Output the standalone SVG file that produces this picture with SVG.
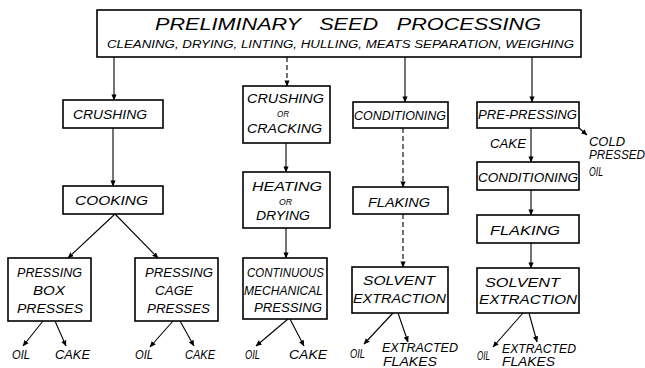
<svg xmlns="http://www.w3.org/2000/svg" width="645" height="368" viewBox="0 0 645 368">
<style>
.box{fill:#fff;stroke:#000;stroke-width:1.6}
.t{font-family:"Liberation Sans",Arial,sans-serif;font-style:italic;fill:#000;font-size:13px}
.s{font-size:9px}
.o{font-size:12px}
.c{stroke:#000;stroke-width:1.1;fill:none;marker-end:url(#ah)}
.d{stroke-dasharray:5 3}
</style>
<defs>
<marker id="ah" viewBox="0 0 8 8" refX="7.5" refY="4" markerWidth="6" markerHeight="6" markerUnits="userSpaceOnUse" orient="auto">
<path d="M0,0.5 L8,4 L0,7.5 Z" fill="#000"/>
</marker>
</defs>
<rect width="645" height="368" fill="#fff"/>
<g id="connectors">
<line class="c" x1="114" y1="57" x2="114" y2="100"/>
<line class="c" x1="113" y1="128" x2="113" y2="186"/>
<line class="c" x1="115" y1="214" x2="68" y2="258"/>
<line class="c" x1="115" y1="214" x2="158" y2="258"/>
<line class="c" x1="43" y1="321" x2="23" y2="346"/>
<line class="c" x1="55" y1="321" x2="66" y2="346"/>
<line class="c" x1="173" y1="321" x2="150" y2="347"/>
<line class="c" x1="180" y1="321" x2="194" y2="346"/>
<line class="c d" x1="287" y1="57" x2="287" y2="86"/>
<line class="c" x1="286" y1="143" x2="286" y2="172"/>
<line class="c" x1="286" y1="228" x2="286" y2="258"/>
<line class="c" x1="288" y1="319" x2="256" y2="346"/>
<line class="c" x1="290" y1="319" x2="304" y2="346"/>
<line class="c" x1="405" y1="57" x2="405" y2="102"/>
<line class="c d" x1="403" y1="128" x2="403" y2="187"/>
<line class="c d" x1="403" y1="214" x2="403" y2="267"/>
<line class="c" x1="393" y1="313" x2="364" y2="344"/>
<line class="c" x1="398" y1="313" x2="408" y2="342"/>
<line class="c" x1="532" y1="57" x2="532" y2="102"/>
<line class="c" x1="531" y1="128" x2="531" y2="162"/>
<line class="c" x1="531" y1="190" x2="531" y2="215"/>
<line class="c" x1="531" y1="243" x2="531" y2="268"/>
<line class="c" x1="579" y1="128" x2="587" y2="135"/>
<line class="c" x1="523" y1="313" x2="493" y2="347"/>
<line class="c" x1="529" y1="313" x2="537" y2="342"/>
</g>
<g id="prelim">
<rect class="box" x="97" y="10" width="484" height="47"/>
<text class="t" x="155" y="30" textLength="386" lengthAdjust="spacingAndGlyphs" style="font-size:17px;word-spacing:10px">PRELIMINARY SEED PROCESSING</text>
<text class="t" x="107" y="48" textLength="467" lengthAdjust="spacingAndGlyphs" style="font-size:10px">CLEANING, DRYING, LINTING, HULLING, MEATS SEPARATION, WEIGHING</text>
</g>
<g id="crushing1">
<rect class="box" x="63" y="100" width="100" height="28"/>
<text class="t" x="73" y="119" textLength="74" lengthAdjust="spacingAndGlyphs">CRUSHING</text>
</g>
<g id="cooking">
<rect class="box" x="63" y="186" width="100" height="28"/>
<text class="t" x="75" y="205" textLength="73" lengthAdjust="spacingAndGlyphs">COOKING</text>
</g>
<g id="boxpress">
<rect class="box" x="8" y="258" width="83" height="63"/>
<text class="t" x="17" y="277" textLength="65" lengthAdjust="spacingAndGlyphs">PRESSING</text>
<text class="t" x="33" y="295" textLength="32" lengthAdjust="spacingAndGlyphs">BOX</text>
<text class="t" x="17" y="313" textLength="66" lengthAdjust="spacingAndGlyphs">PRESSES</text>
</g>
<g id="cagepress">
<rect class="box" x="135" y="258" width="83" height="63"/>
<text class="t" x="145" y="277" textLength="68" lengthAdjust="spacingAndGlyphs">PRESSING</text>
<text class="t" x="155" y="295" textLength="38" lengthAdjust="spacingAndGlyphs">CAGE</text>
<text class="t" x="147" y="313" textLength="63" lengthAdjust="spacingAndGlyphs">PRESSES</text>
</g>
<g id="out1">
<text class="t o" x="12" y="359" textLength="18" lengthAdjust="spacingAndGlyphs">OIL</text>
<text class="t o" x="55" y="359" textLength="35" lengthAdjust="spacingAndGlyphs">CAKE</text>
<text class="t o" x="135" y="359" textLength="18" lengthAdjust="spacingAndGlyphs">OIL</text>
<text class="t o" x="185" y="359" textLength="30" lengthAdjust="spacingAndGlyphs">CAKE</text>
</g>
<g id="crushing2">
<rect class="box" x="243" y="86" width="87" height="57"/>
<text class="t" x="247" y="103" textLength="77" lengthAdjust="spacingAndGlyphs">CRUSHING</text>
<text class="t s" x="277" y="117" textLength="12" lengthAdjust="spacingAndGlyphs">OR</text>
<text class="t" x="247" y="133" textLength="75" lengthAdjust="spacingAndGlyphs">CRACKING</text>
</g>
<g id="heating">
<rect class="box" x="243" y="172" width="87" height="56"/>
<text class="t" x="252" y="191" textLength="70" lengthAdjust="spacingAndGlyphs">HEATING</text>
<text class="t s" x="279" y="205" textLength="13" lengthAdjust="spacingAndGlyphs">OR</text>
<text class="t" x="256" y="220" textLength="54" lengthAdjust="spacingAndGlyphs">DRYING</text>
</g>
<g id="continuous">
<rect class="box" x="243" y="258" width="84" height="61"/>
<text class="t" x="247" y="277" textLength="77" lengthAdjust="spacingAndGlyphs" style="font-size:12px">CONTINUOUS</text>
<text class="t" x="244" y="295" textLength="79" lengthAdjust="spacingAndGlyphs" style="font-size:12px">MECHANICAL</text>
<text class="t" x="254" y="312" textLength="68" lengthAdjust="spacingAndGlyphs">PRESSING</text>
</g>
<g id="out2">
<text class="t o" x="245" y="359" textLength="15" lengthAdjust="spacingAndGlyphs">OIL</text>
<text class="t o" x="289" y="359" textLength="38" lengthAdjust="spacingAndGlyphs">CAKE</text>
</g>
<g id="conditioning1">
<rect class="box" x="353" y="102" width="95" height="26"/>
<text class="t" x="354" y="120" textLength="92" lengthAdjust="spacingAndGlyphs">CONDITIONING</text>
</g>
<g id="flaking1">
<rect class="box" x="353" y="187" width="95" height="27"/>
<text class="t" x="368" y="207" textLength="62" lengthAdjust="spacingAndGlyphs">FLAKING</text>
</g>
<g id="solvent1">
<rect class="box" x="352" y="267" width="96" height="46"/>
<text class="t" x="363" y="285" textLength="72" lengthAdjust="spacingAndGlyphs">SOLVENT</text>
<text class="t" x="353" y="303" textLength="93" lengthAdjust="spacingAndGlyphs">EXTRACTION</text>
</g>
<g id="out3">
<text class="t o" x="350" y="358" textLength="15" lengthAdjust="spacingAndGlyphs">OIL</text>
<text class="t o" x="382" y="352" textLength="76" lengthAdjust="spacingAndGlyphs">EXTRACTED</text>
<text class="t o" x="383" y="366" textLength="54" lengthAdjust="spacingAndGlyphs">FLAKES</text>
</g>
<g id="prepressing">
<rect class="box" x="477" y="102" width="102" height="26"/>
<text class="t" x="478" y="119" textLength="99" lengthAdjust="spacingAndGlyphs">PRE-PRESSING</text>
</g>
<g id="coldoil">
<text class="t o" x="490" y="148" textLength="36" lengthAdjust="spacingAndGlyphs">CAKE</text>
<text class="t o" x="589" y="146" textLength="36" lengthAdjust="spacingAndGlyphs">COLD</text>
<text class="t o" x="589" y="159" textLength="56" lengthAdjust="spacingAndGlyphs">PRESSED</text>
<text class="t o" x="589" y="176" textLength="14" lengthAdjust="spacingAndGlyphs">OIL</text>
</g>
<g id="conditioning2">
<rect class="box" x="477" y="162" width="102" height="28"/>
<text class="t" x="478" y="182" textLength="100" lengthAdjust="spacingAndGlyphs">CONDITIONING</text>
</g>
<g id="flaking2">
<rect class="box" x="477" y="215" width="102" height="28"/>
<text class="t" x="490" y="235" textLength="70" lengthAdjust="spacingAndGlyphs">FLAKING</text>
</g>
<g id="solvent2">
<rect class="box" x="477" y="268" width="102" height="45"/>
<text class="t" x="485" y="287" textLength="75" lengthAdjust="spacingAndGlyphs">SOLVENT</text>
<text class="t" x="479" y="304" textLength="98" lengthAdjust="spacingAndGlyphs">EXTRACTION</text>
</g>
<g id="out4">
<text class="t o" x="477" y="360" textLength="13" lengthAdjust="spacingAndGlyphs">OIL</text>
<text class="t o" x="502" y="353" textLength="74" lengthAdjust="spacingAndGlyphs">EXTRACTED</text>
<text class="t o" x="502" y="366" textLength="53" lengthAdjust="spacingAndGlyphs">FLAKES</text>
</g>
</svg>
